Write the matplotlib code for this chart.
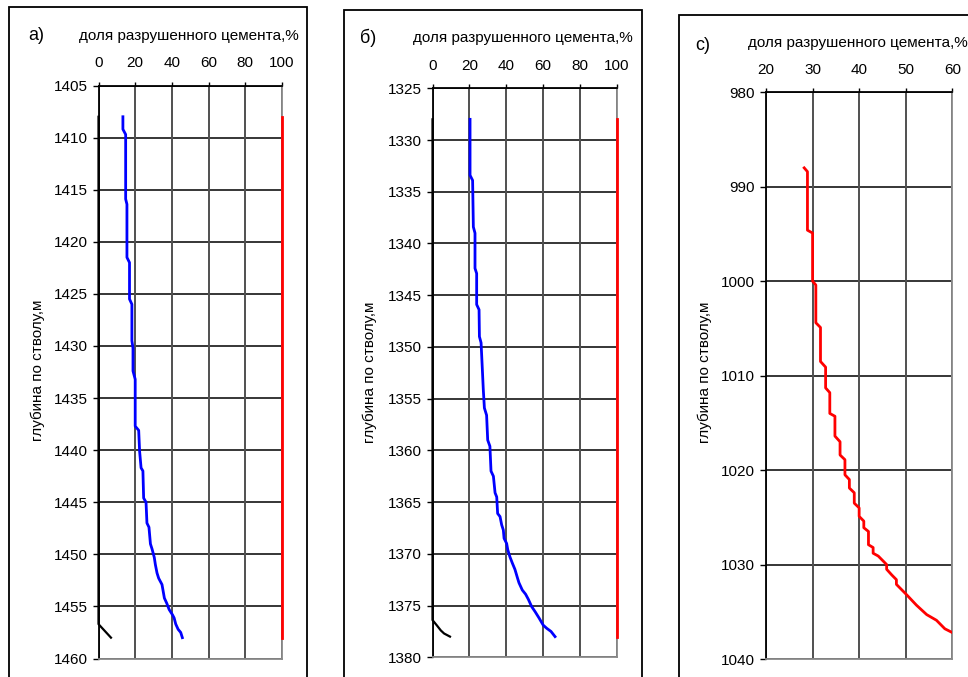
import matplotlib
matplotlib.use("Agg")
import matplotlib.pyplot as plt
from matplotlib.patches import Rectangle


plt.rcParams["font.family"] = ["Liberation Sans", "DejaVu Sans"]


# =====================================================
# DATA
# =====================================================

# well a) - fraction of destroyed cement vs depth
depth_a_blue = [1408.0, 1409.2, 1409.7, 1415.9, 1416.4, 1421.5, 1422.0,
                1425.5, 1426.0, 1429.5, 1430.2, 1432.4, 1433.2, 1437.7,
                1438.1, 1440.1, 1441.7, 1442.0, 1444.6, 1445.0, 1447.0,
                1447.4, 1449.0, 1449.5, 1450.3, 1451.0, 1451.8, 1452.3,
                1452.9, 1453.8, 1454.2, 1454.7, 1455.3, 1455.8, 1456.1,
                1456.7, 1457.2, 1457.5, 1458.0]
share_a_blue = [13.3, 13.3, 14.8, 14.8, 15.5, 15.5, 16.9,
                16.9, 18.2, 18.2, 18.8, 18.8, 20.0, 20.0,
                21.9, 22.4, 23.2, 24.2, 24.6, 25.9, 26.4,
                27.5, 28.3, 29.2, 30.4, 31.0, 31.9, 32.8,
                34.6, 35.5, 35.9, 37.2, 38.5, 40.3, 41.2,
                42.1, 43.4, 44.8, 45.7]
depth_a_red = [1408.0, 1458.0]
share_a_red = [100, 100]
depth_a_black = [1408.0, 1456.7, 1458.0]
share_a_black = [0, 0, 6.8]

# well б)
depth_b_blue = [1328.0, 1333.4, 1333.9, 1338.4, 1339.0, 1342.4, 1342.9,
                1345.9, 1346.4, 1349.0, 1349.6, 1352.2, 1354.1, 1355.9,
                1356.6, 1359.0, 1359.6, 1362.0, 1362.5, 1364.1, 1364.5,
                1366.1, 1366.4, 1367.2, 1367.7, 1368.5, 1369.0, 1369.6,
                1370.3, 1370.9, 1371.5, 1372.4, 1372.8, 1373.5, 1373.9,
                1374.4, 1375.1, 1375.6, 1376.2, 1376.9, 1377.2, 1377.5,
                1378.0]
share_b_blue = [20.4, 20.4, 21.8, 22.2, 23.1, 23.1, 24.0,
                24.0, 25.3, 25.5, 26.4, 27.1, 27.6, 28.2,
                29.4, 30.0, 31.2, 31.8, 33.1, 34.0, 34.9,
                35.4, 36.7, 37.6, 38.5, 38.9, 40.3, 40.9,
                42.1, 43.4, 44.8, 46.3, 47.0, 48.8, 50.6,
                52.1, 53.9, 55.8, 57.9, 60.2, 62.1, 64.4,
                66.6]
depth_b_red = [1328.0, 1378.0]
share_b_red = [100, 100]
depth_b_black = [1328.0, 1376.4, 1376.9, 1377.4, 1377.7, 1378.0]
share_b_black = [0, 0, 2.3, 4.5, 6.3, 9.5]

# well с)
depth_c_red = [988.0, 988.4, 994.6, 994.9, 1000.0, 1000.4, 1004.4, 1004.9,
               1008.5, 1009.1, 1011.3, 1011.8, 1014.0, 1014.3, 1016.4,
               1017.0, 1018.4, 1018.9, 1020.5, 1021.0, 1021.9, 1022.4,
               1023.5, 1024.0, 1024.9, 1025.4, 1026.1, 1026.5, 1027.9,
               1028.2, 1028.8, 1029.1, 1030.0, 1030.5, 1031.1, 1031.6,
               1032.1, 1033.2, 1034.3, 1035.3, 1035.9, 1036.8, 1037.2]
share_c_red = [28.2, 28.9, 28.9, 30.0, 30.0, 30.7, 30.7, 31.7,
               31.7, 32.8, 32.8, 33.7, 33.7, 34.8, 34.8,
               35.9, 35.9, 36.95, 36.95, 37.9, 37.9, 38.95,
               38.95, 40.0, 40.0, 41.0, 41.0, 42.0, 42.0,
               43.0, 43.0, 44.1, 45.9, 45.9, 47.0, 48.0,
               48.0, 50.2, 52.3, 54.5, 56.6, 58.4, 60.0]

ticks_x_ab = [0, 20, 40, 60, 80, 100]
ticks_x_c = [20, 30, 40, 50, 60]
ticks_y_a = [1405, 1410, 1415, 1420, 1425, 1430, 1435, 1440, 1445, 1450, 1455, 1460]
ticks_y_b = [1325, 1330, 1335, 1340, 1345, 1350, 1355, 1360, 1365, 1370, 1375, 1380]
ticks_y_c = [980, 990, 1000, 1010, 1020, 1030, 1040]

title_x = "доля разрушенного цемента,%"
title_y = "глубина по стволу,м"


# =====================================================
# HELPERS
# =====================================================

W, H = 968, 677


def px_axes(left, top, right, bottom):
    return [left / W, 1 - bottom / H, (right - left) / W, (bottom - top) / H]


def px(x, y):
    return x / W, 1 - y / H


def setup_panel(fig, rect, xlim, ylim, xticks, yticks):

    ax = fig.add_axes(rect)

    ax.set_xlim(*xlim)
    ax.set_ylim(ylim[1], ylim[0])

    ax.xaxis.tick_top()
    ax.set_xticks(xticks)
    ax.set_yticks(yticks)

    ax.tick_params(axis="x", direction="out", length=3, width=1,
                   pad=8, labelsize=11, color="black")
    ax.tick_params(axis="y", direction="out", length=4, width=1,
                   pad=4, labelsize=11, color="black")

    # grid: black horizontal, dark grey vertical
    for y in yticks:
        ax.axhline(y, color="black", lw=1.1, zorder=1)
    for x in xticks:
        ax.axvline(x, color="#505050", lw=1.4, zorder=1)

    ax.spines["left"].set_color("black")
    ax.spines["top"].set_color("black")
    ax.spines["right"].set_color("#8a8a8a")
    ax.spines["bottom"].set_color("#8a8a8a")
    for s in ax.spines.values():
        s.set_linewidth(1.3)

    return ax


def frame(fig, left, top, right):
    x0, y0 = px(left, top)
    x1, _ = px(right, top)
    rect = Rectangle((x0, -0.1), x1 - x0, y0 + 0.1,
                     transform=fig.transFigure, fill=False,
                     edgecolor="black", lw=1.3, clip_on=False)
    fig.patches.append(rect)


def labels(fig, letter, letter_xy, title_xy, ylabel_xy):
    fig.text(*px(*letter_xy), letter, fontsize=13, ha="center", va="center")
    fig.text(*px(*title_xy), title_x, fontsize=11, ha="center", va="center")
    fig.text(*px(*ylabel_xy), title_y, fontsize=11, ha="center",
             va="center", rotation=90)


# =====================================================
# FIGURE
# =====================================================

fig = plt.figure(figsize=(W / 100, H / 100), dpi=100)

frame(fig, 9, 7, 307)
frame(fig, 344, 10, 642)
frame(fig, 679, 15, 1000)

# panel а)
ax_a = setup_panel(fig, px_axes(98.5, 85.5, 282, 658.5),
                   (0, 100), (1405, 1460), ticks_x_ab, ticks_y_a)
ax_a.plot(share_a_blue, depth_a_blue, color="#0000ff", lw=2.0, zorder=3)
ax_a.plot(share_a_red, depth_a_red, color="#ff0000", lw=2.0, zorder=3,
          clip_on=False)
ax_a.plot(share_a_black, depth_a_black, color="black", lw=1.6, zorder=3,
          clip_on=False)
labels(fig, "а)", (36, 36), (189, 36), (38, 370))

# panel б)
ax_b = setup_panel(fig, px_axes(432.5, 88.3, 616.5, 657.3),
                   (0, 100), (1325, 1380), ticks_x_ab, ticks_y_b)
ax_b.plot(share_b_blue, depth_b_blue, color="#0000ff", lw=2.0, zorder=3)
ax_b.plot(share_b_red, depth_b_red, color="#ff0000", lw=2.0, zorder=3,
          clip_on=False)
ax_b.plot(share_b_black, depth_b_black, color="black", lw=1.6, zorder=3,
          clip_on=False)
labels(fig, "б)", (368, 38), (523, 38), (370, 372))

# panel с)
ax_c = setup_panel(fig, px_axes(766, 92.3, 952.3, 659),
                   (20, 60), (980, 1040), ticks_x_c, ticks_y_c)
ax_c.plot(share_c_red, depth_c_red, color="#ff0000", lw=2.0, zorder=3)
labels(fig, "с)", (703, 45), (858, 43), (705, 372))

plt.savefig("out.png", dpi=100)
plt.close()
